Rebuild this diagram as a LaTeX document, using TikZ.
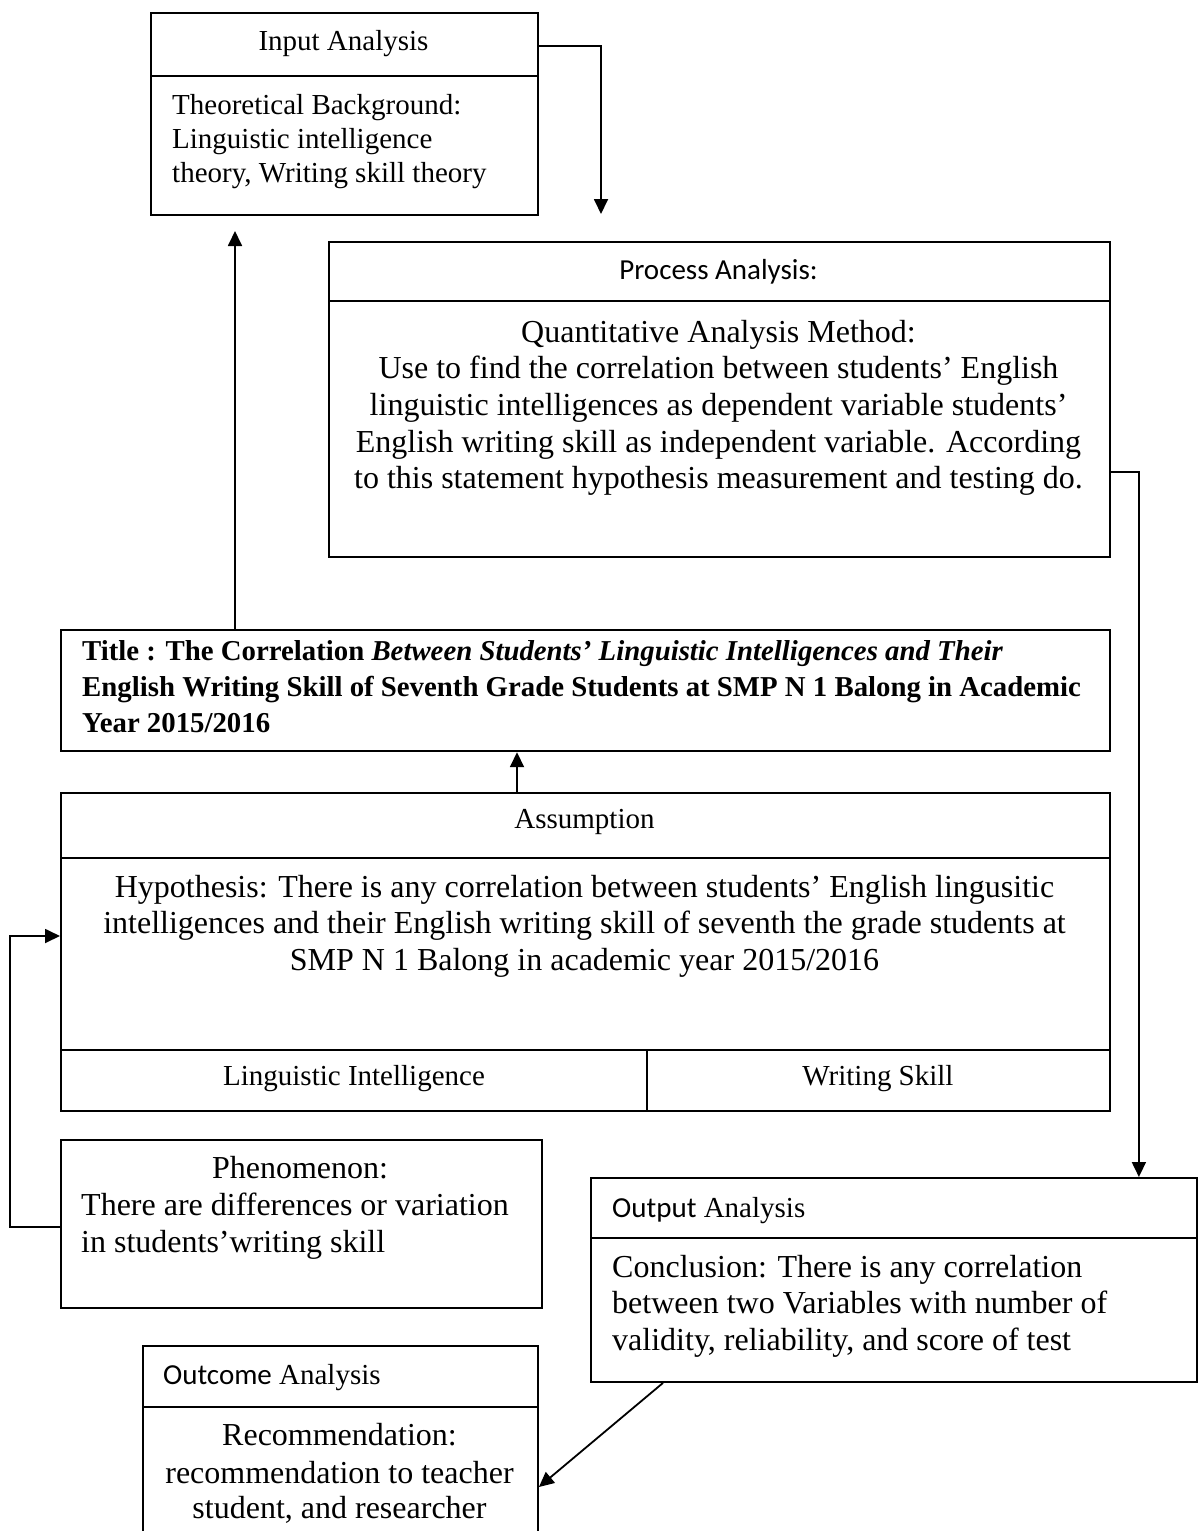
\documentclass[tikz,border=0pt]{standalone}
\usepackage{fontspec}
\setmainfont{Liberation Serif}
\newfontfamily\calib{Carlito}
\usetikzlibrary{arrows.meta}
\tikzset{
  box/.style={draw, line width=1.9pt, inner sep=0pt, anchor=north west},
  rul/.style={line width=1.9pt},
  thinrul/.style={line width=1.3pt},
  con/.style={line width=1.8pt, -{Triangle[length=15pt,width=14pt]}},
  bt/.style={inner sep=0pt, font=\fontsize{32}{36}\selectfont},
  ht/.style={inner sep=0pt, font=\fontsize{29}{33}\selectfont},
  tt/.style={inner sep=0pt, font=\fontsize{28.8}{33}\selectfont\bfseries, anchor=base west},
}
\begin{document}
\begin{tikzpicture}[x=1pt,y=-1pt]
\clip (0,0) rectangle (1203,1531);
\fill[white] (0,0) rectangle (1203,1531);

% ---------- boxes ----------
\node[box, minimum width=387pt, minimum height=202pt] (input) at (150,12) {};
\draw[rul] ([yshift=-64pt]input.north west) -- ([yshift=-64pt]input.north east);

\node[box, minimum width=781pt, minimum height=315pt] (process) at (328,241) {};
\draw[rul] ([yshift=-60pt]process.north west) -- ([yshift=-60pt]process.north east);

\node[box, line width=2.2pt, minimum width=1049pt, minimum height=121pt] (title) at (60,629) {};

\node[box, minimum width=1049pt, minimum height=318pt] (assump) at (60,792) {};
\draw[rul] ([yshift=-66pt]assump.north west) -- ([yshift=-66pt]assump.north east);
\draw[rul] ([yshift=-258pt]assump.north west) -- ([yshift=-258pt]assump.north east);
\draw[thinrul] ([xshift=587pt,yshift=-258pt]assump.north west) -- ([xshift=587pt]assump.south west);

\node[box, minimum width=481pt, minimum height=168pt] (phen) at (60,1139) {};

\node[box, minimum width=606pt, minimum height=204pt] (output) at (590,1177) {};
\draw[rul] ([yshift=-61pt]output.north west) -- ([yshift=-61pt]output.north east);

\node[box, minimum width=395pt, minimum height=250pt] (outcome) at (142,1345) {};
\draw[rul] ([yshift=-62pt]outcome.north west) -- ([yshift=-62pt]outcome.north east);

% ---------- connectors ----------
\coordinate (p1) at (601,214);
\coordinate (p2) at (235,231);
\draw[con] ([yshift=-34pt]input.north east) -| (p1);
\draw[con] ([yshift=-231pt]process.north east) -| ([xshift=-59pt]output.north east);
\draw[con] ([xshift=175pt]title.north west) -- (p2);
\draw[con] ([xshift=457pt]assump.north west) -- ([xshift=457pt]title.south west);
\draw[con] ([yshift=-88pt]phen.north west) -- ++(-50,0) |- ([yshift=-144pt]assump.north west);
\draw[con] ([xshift=73pt]output.south west) -- ([yshift=-142pt]outcome.north east);

% ---------- texts ----------
\node[ht, anchor=base] (inh) at (343.5,50) {Input Analysis};
\node[ht, anchor=base west] (in1) at (172,114) {Theoretical Background:};
\node[ht, anchor=base west] (in2) at (172,148) {Linguistic intelligence};
\node[ht, anchor=base west] (in3) at (172,182) {theory, Writing skill theory};

\node[ht, anchor=base] (prh) at (718.5,279) {\calib Process Analysis:};
\node[bt, anchor=base] (pr1) at (718.5,342) {Quantitative Analysis Method:};
\node[bt, anchor=base] (pr2) at (718.5,378) {Use to find the correlation between students’ English};
\node[bt, anchor=base] (pr3) at (718.5,415) {linguistic intelligences as dependent variable students’};
\node[bt, anchor=base] (pr4) at (718.5,452) {English writing skill as independent variable. According};
\node[bt, anchor=base] (pr5) at (718.5,488) {to this statement hypothesis measurement and testing do.};

\node[tt] (ti1) at (82,660) {Title : The Correlation \textit{Between Students’ Linguistic Intelligences and Their}};
\node[tt] (ti2) at (82,696) {English Writing Skill of Seventh Grade Students at SMP N 1 Balong in Academic};
\node[tt] (ti3) at (82,732) {Year 2015/2016};

\node[ht, anchor=base] (ash) at (584.5,828) {Assumption};
\node[bt, anchor=base] (as1) at (584.5,897) {Hypothesis: There is any correlation between students’ English lingusitic};
\node[bt, anchor=base] (as2) at (584.5,933) {intelligences and their English writing skill of seventh the grade students at};
\node[bt, anchor=base] (as3) at (584.5,970) {SMP N 1 Balong in academic year 2015/2016};
\node[ht, anchor=base] (li) at (354,1085) {Linguistic Intelligence};
\node[ht, anchor=base] (ws) at (878,1085) {Writing Skill};

\node[bt, anchor=base] (ph1) at (300,1178) {Phenomenon:};
\node[bt, anchor=base west] (ph2) at (81,1215) {There are differences or variation};
\node[bt, anchor=base west] (ph3) at (81,1252) {in students’writing skill};

\node[ht, anchor=base west] (outh) at (612,1217) {{\calib Output} Analysis};
\node[bt, anchor=base west] (ou1) at (612,1277) {Conclusion: There is any correlation};
\node[bt, anchor=base west] (ou2) at (612,1313) {between two Variables with number of};
\node[bt, anchor=base west] (ou3) at (612,1350) {validity, reliability, and score of test};

\node[ht, anchor=base west] (ocmh) at (163,1384) {{\calib Outcome} Analysis};
\node[bt, anchor=base] (oc1) at (339.5,1445) {Recommendation:};
\node[bt, anchor=base] (oc2) at (339.5,1483) {recommendation to teacher};
\node[bt, anchor=base] (oc3) at (339.5,1518) {student, and researcher};
\end{tikzpicture}
\end{document}
